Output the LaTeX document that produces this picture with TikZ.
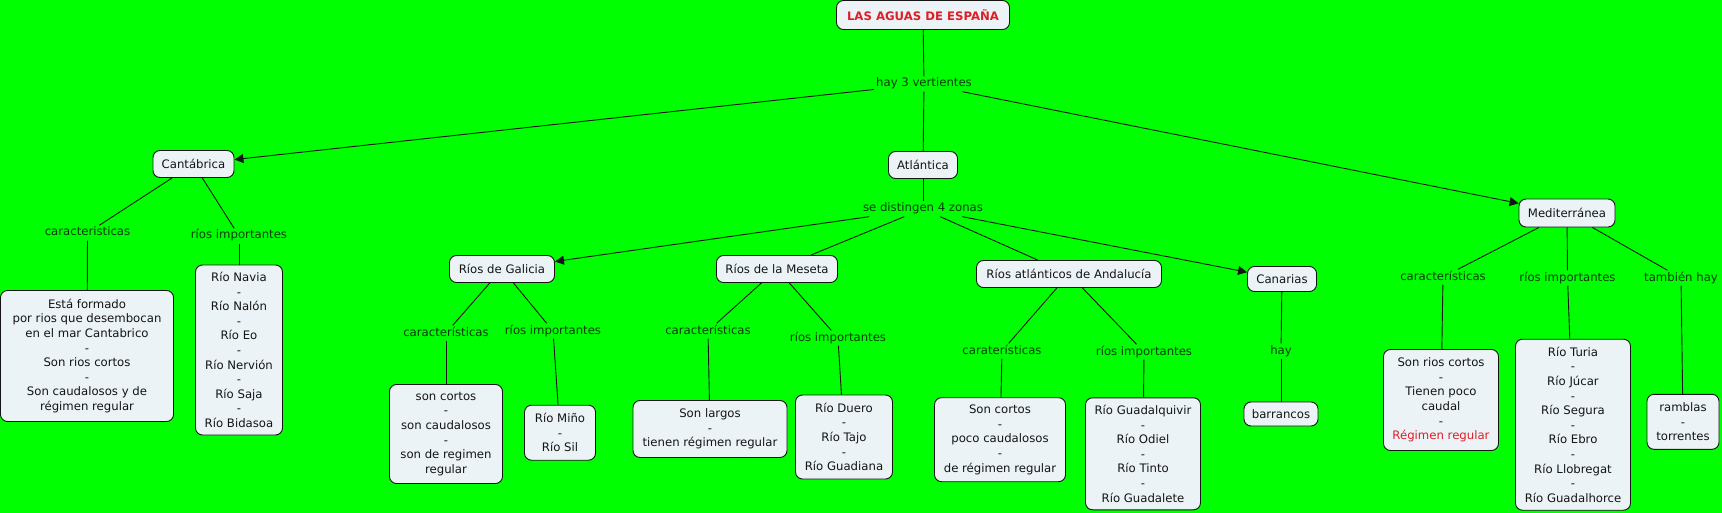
\documentclass[tikz,border=0pt]{standalone}
\usepackage{fontspec}
\setmainfont{DejaVu Sans}
\usetikzlibrary{arrows.meta}
\definecolor{bg}{RGB}{0,255,0}
\definecolor{boxfill}{RGB}{236,243,246}
\definecolor{lbl}{RGB}{8,58,8}
\definecolor{redt}{RGB}{222,30,38}
\definecolor{ink}{RGB}{20,20,20}
\begin{document}
\begin{tikzpicture}[x=1pt,y=-1pt,
  font=\fontsize{11.7}{14.6}\selectfont,
  concept/.style={draw=ink, line width=0.9pt, fill=boxfill, rounded corners=7pt, align=center, inner sep=0pt, text=ink},
  link/.style={inner xsep=2pt, inner ysep=1.5pt, text height=9pt, text depth=3pt, text=lbl},
  conn/.style={draw=ink, line width=0.9pt},
  arr/.style={conn, -{Triangle[length=9pt,width=9pt]}}
]
\useasboundingbox (0,0) rectangle (1722,513);
\fill[bg] (0,0) rectangle (1722,513);

% concepts
\node[concept, minimum width=173pt, minimum height=29pt] (top) at (923,15) {\textbf{\textcolor{redt}{LAS AGUAS DE ESPAÑA}}};
\node[concept, minimum width=69pt, minimum height=27pt] (atl) at (923,165) {Atlántica};
\node[concept, minimum width=81pt, minimum height=27pt] (cant) at (193.5,164) {Cantábrica};
\node[concept, minimum width=96pt, minimum height=28pt] (med) at (1567,213) {Mediterránea};

\node[concept, minimum width=173pt, minimum height=131pt] (esta) at (87,356) {Está formado\\por rios que desembocan\\en el mar Cantabrico\\-\\Son rios cortos\\-\\Son caudalosos y de\\régimen regular};
\node[concept, minimum width=87pt, minimum height=170pt] (navia) at (239,350) {Río Navia\\-\\Río Nalón\\-\\Río Eo\\-\\Río Nervión\\-\\Río Saja\\-\\Río Bidasoa};

\node[concept, minimum width=105pt, minimum height=27pt] (gal) at (502,269) {Ríos de Galicia};
\node[concept, minimum width=121pt, minimum height=27pt] (mes) at (777,269) {Ríos de la Meseta};
\node[concept, minimum width=185pt, minimum height=27pt] (and) at (1069,274) {Ríos atlánticos de Andalucía};
\node[concept, minimum width=69pt, minimum height=25pt] (can) at (1282,279) {Canarias};

\node[concept, minimum width=113pt, minimum height=99pt] (galc) at (446,434) {son cortos\\-\\son caudalosos\\-\\son de regimen\\regular};
\node[concept, minimum width=71pt, minimum height=55pt] (mino) at (560,432.7) {Río Miño\\-\\Río Sil};
\node[concept, minimum width=154pt, minimum height=57pt] (mesc) at (710,429) {Son largos\\-\\tienen régimen regular};
\node[concept, minimum width=97pt, minimum height=84pt] (duero) at (844,437) {Río Duero\\-\\Río Tajo\\-\\Río Guadiana};
\node[concept, minimum width=131pt, minimum height=84pt] (andc) at (1000,439.7) {Son cortos\\-\\poco caudalosos\\-\\de régimen regular};
\node[concept, minimum width=115pt, minimum height=112pt] (guad) at (1143,453.8) {Río Guadalquivir\\-\\Río Odiel\\-\\Río Tinto\\-\\Río Guadalete};
\node[concept, minimum width=74pt, minimum height=24pt] (barr) at (1281,414) {barrancos};

\node[concept, minimum width=115pt, minimum height=101pt] (medc) at (1441,400) {Son rios cortos\\-\\Tienen poco\\caudal\\-\\\textcolor{redt}{Régimen regular}};
\node[concept, minimum width=115pt, minimum height=171pt] (turia) at (1573,424.7) {Río Turia\\-\\Río Júcar\\-\\Río Segura\\-\\Río Ebro\\-\\Río Llobregat\\-\\Río Guadalhorce};
\node[concept, minimum width=72pt, minimum height=55pt] (ramb) at (1683,421.8) {ramblas\\-\\torrentes};

% linking phrases
\node[link] (hay3) at (924,84) {hay 3 vertientes};
\node[link] (sed4) at (923,209) {se distingen 4 zonas};
\node[link] (cantcar) at (87.5,233) {caracteristicas};
\node[link] (cantrio) at (239,236) {ríos importantes};
\node[link] (galcar) at (446,333) {características};
\node[link] (galrio) at (553,331) {ríos importantes};
\node[link] (mescar) at (708,331) {características};
\node[link] (mesrio) at (838,338) {ríos importantes};
\node[link] (andcar) at (1002,351) {caraterísticas};
\node[link] (andrio) at (1144,352) {ríos importantes};
\node[link] (canhay) at (1281,351) {hay};
\node[link] (medcar) at (1443,277) {características};
\node[link] (medrio) at (1567.5,278) {ríos importantes};
\node[link] (medtam) at (1681,278) {también hay};

% connectors
\draw[conn] (top) -- (hay3);
\draw[arr] (hay3) -- (cant);
\draw[conn] (hay3) -- (atl);
\draw[arr] (hay3) -- (med);
\draw[conn] (atl) -- (sed4);
\draw[arr] (sed4) -- (gal);
\draw[conn] (sed4) -- (mes);
\draw[conn] (sed4) -- (and);
\draw[arr] (sed4) -- (can);

\draw[conn] (cant) -- (cantcar);
\draw[conn] (cantcar) -- (esta);
\draw[conn] (cant) -- (cantrio);
\draw[conn] (cantrio) -- (navia);

\draw[conn] (gal) -- (galcar);
\draw[conn] (galcar) -- (galc);
\draw[conn] (gal) -- (galrio);
\draw[conn] (galrio) -- (mino);

\draw[conn] (mes) -- (mescar);
\draw[conn] (mescar) -- (mesc);
\draw[conn] (mes) -- (mesrio);
\draw[conn] (mesrio) -- (duero);

\draw[conn] (and) -- (andcar);
\draw[conn] (andcar) -- (andc);
\draw[conn] (and) -- (andrio);
\draw[conn] (andrio) -- (guad);

\draw[conn] (can) -- (canhay);
\draw[conn] (canhay) -- (barr);

\draw[conn] (med) -- (medcar);
\draw[conn] (medcar) -- (medc);
\draw[conn] (med) -- (medrio);
\draw[conn] (medrio) -- (turia);
\draw[conn] (med) -- (medtam);
\draw[conn] (medtam) -- (ramb);
\end{tikzpicture}
\end{document}
